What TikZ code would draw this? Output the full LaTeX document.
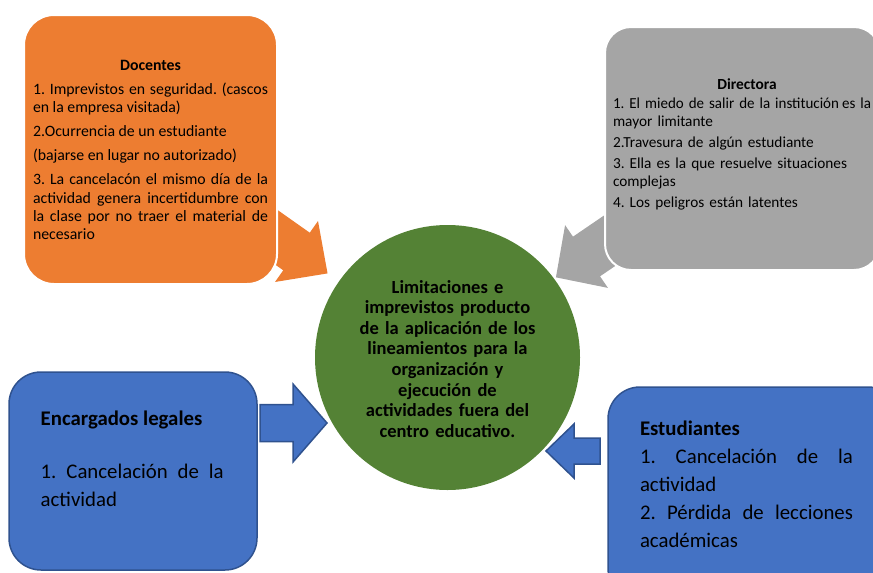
\documentclass[tikz,border=0pt]{standalone}
\usepackage{graphicx}
\usepackage{fontspec}
\setmainfont{Carlito}
\frenchspacing
\definecolor{orangec}{HTML}{ED7D31}
\definecolor{grayc}{HTML}{A5A5A5}
\definecolor{greenc}{HTML}{548235}
\definecolor{bluec}{HTML}{4472C4}
\definecolor{blueb}{HTML}{2F528F}
\begin{document}
\begin{tikzpicture}[x=1pt,y=-1pt,
  every node/.style={inner sep=0pt, outer sep=0pt, text=black},
  panel/.style={draw=white, line width=2pt, rounded corners=30pt},
  bluepanel/.style={fill=bluec, draw=blueb, line width=1.5pt, rounded corners=32pt},
  smalltext/.style={font=\fontsize{15.8}{18.3}\selectfont\frenchspacing},
  smallhead/.style={font=\fontsize{15.8}{18.3}\selectfont\bfseries},
  bigtext/.style={font=\fontsize{20.8}{28}\selectfont\frenchspacing},
  bighead/.style={font=\fontsize{20.8}{28}\selectfont\bfseries},
  bluearrow/.style={fill=bluec, draw=blueb, line width=1.5pt, line join=miter}
]
\useasboundingbox (0,0) rectangle (873,573);

% block arrows (drawn first, partly hidden by the boxes)
\fill[orangec, shift={(296.5,251.5)}, rotate=-35.2]
  (-50,23) -- (0,23) -- (0,37.3) -- (38,0) -- (0,-37.3) -- (0,-23) -- (-50,-23) -- cycle;
\fill[grayc, shift={(586.5,256.5)}, rotate=-145.7]
  (-50,24) -- (0,24) -- (0,38) -- (37,0) -- (0,-38) -- (0,-24) -- (-50,-24) -- cycle;

% boxes
\node[panel, fill=orangec, minimum width=253pt, minimum height=269pt] (doc) at (150.5,149.5) {};
\node[panel, fill=grayc, minimum width=275pt, minimum height=243pt, rounded corners=26pt] (dir) at (742.5,148.5) {};
\node[bluepanel, minimum width=248pt, minimum height=198pt] (enc) at (133,471) {};
\node[bluepanel, minimum width=292pt, minimum height=213pt] (est) at (754,493.5) {};
\node[circle, fill=greenc, minimum size=265pt] (ctr) at (447.5,357.5) {};

\filldraw[bluearrow] (260,404.5) -- (293,404.5) -- (293,384) -- (327,423) -- (293,462) -- (293,441.5) -- (260,441.5) -- cycle;
\filldraw[bluearrow] (600,438) -- (574,438) -- (574,424) -- (546,451) -- (574,478) -- (574,464) -- (600,464) -- cycle;

% texts
\node[smallhead, anchor=base] (dochead) at (150.5,70.4) {Docentes};
\node[smalltext, anchor=base west, text width=235pt, align=justify] (docbody) at (33,94.4)
  {\setlength{\parskip}{5.7pt}1. Imprevistos en seguridad. (cascos\linebreak en la empresa visitada)\par
   2.Ocurrencia de un estudiante\par
   (bajarse en lugar no autorizado)\par
   3. La cancelacón el mismo día de la\linebreak actividad genera incertidumbre con\linebreak la clase por no traer el material de\linebreak necesario};

\node[font=\fontsize{15.4}{18}\selectfont\bfseries, anchor=base] (dirhead) at (747,89) {Directora};
\node[font=\fontsize{15.3}{17.9}\selectfont\frenchspacing, anchor=base west, text width=300pt, align=left] (dirbody) at (613,108.5)
  {\setlength{\parskip}{3pt}\scalebox{0.98}[1]{1. El miedo de salir de la institución\hspace{-2pt} es la}\\ mayor limitante\par
   2.Travesura de algún estudiante\par
   3. Ella es la que resuelve situaciones\\ complejas\par
   4. Los peligros están latentes};

\node[bighead, anchor=base west] (enchead) at (40.7,425) {Encargados legales};
\node[bigtext, anchor=base west, text width=183pt, align=justify] (encbody) at (40.7,478)
  {1. Cancelación de la\linebreak actividad};

\node[bigtext, anchor=base west, text width=213pt, align=justify] (estbody) at (640,435)
  {\textbf{Estudiantes}\par
   1. Cancelación de la\linebreak actividad\par
   2. Pérdida de lecciones\linebreak académicas};

\node[font=\fontsize{18.5}{20.6}\selectfont\bfseries, anchor=base, text width=250pt, align=center] (ctrtext) at (447.5,293)
  {Limitaciones e\\ imprevistos producto\\ de la aplicación de los\\ lineamientos para la\\ organización y\\ ejecución de\\ actividades fuera del\\ centro educativo.};
\end{tikzpicture}
\end{document}
